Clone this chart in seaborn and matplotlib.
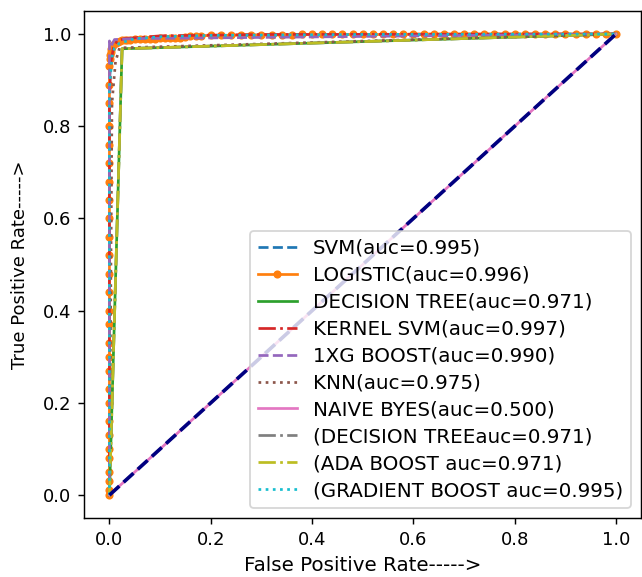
import numpy as np
import pandas as pd
import matplotlib
matplotlib.use("Agg")
import matplotlib.pyplot as plt
import seaborn as sns

# ROC points
svm_fpr = [0.0, 0.0, 0.004, 0.01, 0.02, 0.05, 0.1, 0.2, 0.5, 1.0]
svm_tpr = [0.0, 0.9, 0.95, 0.97, 0.98, 0.99, 0.994, 0.997, 0.999, 1.0]

log_fpr = [0.0, 0.0, 0.0, 0.0, 0.0, 0.0, 0.0, 0.0, 0.0, 0.0, 0.0, 0.0, 0.0, 0.0,
           0.0, 0.0, 0.0, 0.0, 0.0, 0.0, 0.0, 0.0, 0.0, 0.0, 0.0, 0.0, 0.0, 0.0,
           0.001, 0.002, 0.003, 0.004, 0.006, 0.008, 0.01, 0.013, 0.016, 0.02, 0.025,
           0.03, 0.035, 0.04, 0.05, 0.06, 0.07, 0.08, 0.09, 0.1, 0.11, 0.12, 0.13,
           0.14, 0.15, 0.16, 0.17, 0.18, 0.2, 0.22, 0.24, 0.26, 0.28, 0.3, 0.32,
           0.34, 0.36, 0.38, 0.4, 0.42, 0.44, 0.46, 0.48, 0.5, 0.52, 0.54, 0.56,
           0.58, 0.6, 0.62, 0.64, 0.66, 0.68, 0.7, 0.72, 0.74, 0.76, 0.78, 0.8,
           0.82, 0.84, 0.86, 0.88, 0.9, 0.92, 0.94, 0.96, 0.98, 1.0]
log_tpr = [0.0, 0.01, 0.03, 0.05, 0.08, 0.1, 0.13, 0.16, 0.2, 0.23, 0.27, 0.3, 0.33, 0.37,
           0.4, 0.44, 0.48, 0.52, 0.56, 0.6, 0.64, 0.68, 0.72, 0.76, 0.8, 0.85, 0.89, 0.93,
           0.945, 0.955, 0.962, 0.968, 0.972, 0.976, 0.979, 0.981, 0.983, 0.985, 0.986,
           0.987, 0.988, 0.988, 0.989, 0.989, 0.99, 0.99, 0.99, 0.991, 0.991, 0.991, 0.992,
           0.992, 0.993, 0.995, 0.996, 0.996, 0.997, 0.997, 0.997, 0.998, 0.998, 0.998, 0.998,
           0.998, 0.998, 0.999, 0.999, 0.999, 0.999, 0.999, 0.999, 0.999, 0.999, 0.999, 0.999,
           0.999, 1.0, 1.0, 1.0, 1.0, 1.0, 1.0, 1.0, 1.0, 1.0, 1.0, 1.0,
           1.0, 1.0, 1.0, 1.0, 1.0, 1.0, 1.0, 1.0, 1.0, 1.0]

dt_fpr = [0.0, 0.025, 1.0]
dt_tpr = [0.0, 0.968, 1.0]

ksvm_fpr = [0.0, 0.0, 0.003, 0.008, 0.015, 0.03, 0.1, 0.3, 1.0]
ksvm_tpr = [0.0, 0.85, 0.94, 0.97, 0.985, 0.99, 0.996, 0.999, 1.0]

xgb_fpr = [0.0, 0.0, 0.0, 0.004, 0.01, 0.05, 1.0]
xgb_tpr = [0.0, 0.9, 0.985, 0.975, 0.988, 0.99, 1.0]

knn_fpr = [0.0, 0.005, 0.012, 0.02, 1.0]
knn_tpr = [0.0, 0.85, 0.94, 0.97, 1.0]

nb_fpr = [0.0, 1.0]
nb_tpr = [0.0, 1.0]

dt2_fpr = [0.0, 0.025, 1.0]
dt2_tpr = [0.0, 0.968, 1.0]

ada_fpr = [0.0, 0.025, 1.0]
ada_tpr = [0.0, 0.968, 1.0]

gb_fpr = [0.0, 0.0, 0.005, 0.01, 0.02, 0.05, 0.1, 0.2, 0.5, 1.0]
gb_tpr = [0.0, 0.88, 0.95, 0.97, 0.98, 0.99, 0.994, 0.997, 0.999, 1.0]

labels = ["SVM(auc=0.995)", "LOGISTIC(auc=0.996)", "DECISION TREE(auc=0.971)",
          "KERNEL SVM(auc=0.997)", "1XG BOOST(auc=0.990)", "KNN(auc=0.975)",
          "NAIVE BYES(auc=0.500)", "(DECISION TREEauc=0.971)",
          "(ADA BOOST auc=0.971)", "(GRADIENT BOOST auc=0.995)"]
curves = [(svm_fpr, svm_tpr), (log_fpr, log_tpr), (dt_fpr, dt_tpr), (ksvm_fpr, ksvm_tpr),
          (xgb_fpr, xgb_tpr), (knn_fpr, knn_tpr), (nb_fpr, nb_tpr), (dt2_fpr, dt2_tpr),
          (ada_fpr, ada_tpr), (gb_fpr, gb_tpr)]
styles = ["--", "-", "-", "-.", "--", ":", "-", "-.", "-.", ":"]
markers = [None, ".", None, None, None, None, None, None, None, None]
colors = sns.color_palette("tab10", 10)

fig, ax = plt.subplots(figsize=(642 / 130, 577 / 130), dpi=130)
fig.subplots_adjust(left=0.131, right=0.999, bottom=0.102, top=0.981)

for (fpr, tpr), lab, ls, mk, col in zip(curves, labels, styles, markers, colors):
    kw = {"marker": mk, "markersize": 7, "mec": col, "mew": 1} if mk else {}
    sns.lineplot(x=fpr, y=tpr, ax=ax, label=lab, linestyle=ls, color=col,
                 sort=False, estimator=None, **kw)

# chance line
sns.lineplot(x=[0.0, 1.0], y=[0.0, 1.0], ax=ax, color="navy", lw=2, linestyle="--",
             sort=False, estimator=None)

ax.set_xlabel("False Positive Rate----->", fontsize=11)
ax.set_ylabel("True Positive Rate----->", fontsize=10, labelpad=8)
ax.legend(loc="lower right", fontsize=11, labelspacing=0.4)
fig.savefig("out.png", dpi=130)
